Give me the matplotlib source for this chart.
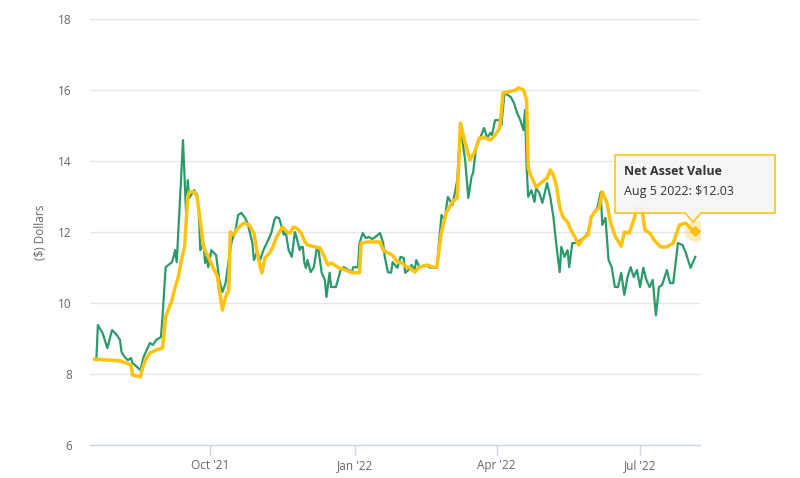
import numpy as np
import pandas as pd
import matplotlib
matplotlib.use("Agg")
import matplotlib.pyplot as plt
from matplotlib.patches import Polygon
from matplotlib.transforms import IdentityTransform

plt.rcParams['font.family'] = ['Open Sans', 'DejaVu Sans']

# market price (green)
price_dates = [
    "2021-07-21", "2021-07-22", "2021-07-25", "2021-07-28", "2021-07-31",
    "2021-08-03", "2021-08-05", "2021-08-06", "2021-08-08", "2021-08-10", "2021-08-12", "2021-08-13",
    "2021-08-18", "2021-08-20", "2021-08-22", "2021-08-24", "2021-08-26", "2021-08-28", "2021-08-31",
    "2021-09-01", "2021-09-03", "2021-09-07", "2021-09-08", "2021-09-09", "2021-09-10", "2021-09-12",
    "2021-09-14", "2021-09-16", "2021-09-17", "2021-09-18", "2021-09-21", "2021-09-23", "2021-09-24",
    "2021-09-25", "2021-09-27", "2021-09-28", "2021-09-29", "2021-09-30",
    "2021-10-02", "2021-10-03", "2021-10-05", "2021-10-07", "2021-10-09", "2021-10-11", "2021-10-13",
    "2021-10-15", "2021-10-17", "2021-10-19", "2021-10-21", "2021-10-23", "2021-10-25", "2021-10-28",
    "2021-10-29", "2021-10-31",
    "2021-11-02", "2021-11-04", "2021-11-07", "2021-11-09", "2021-11-11", "2021-11-12", "2021-11-14",
    "2021-11-17", "2021-11-18", "2021-11-20", "2021-11-22", "2021-11-24", "2021-11-25", "2021-11-27",
    "2021-11-28", "2021-11-29", "2021-11-30",
    "2021-12-01", "2021-12-02", "2021-12-04", "2021-12-06", "2021-12-08", "2021-12-09", "2021-12-11",
    "2021-12-13", "2021-12-14", "2021-12-16", "2021-12-17", "2021-12-20", "2021-12-23", "2021-12-25",
    "2021-12-28", "2021-12-30", "2021-12-31",
    "2022-01-03", "2022-01-04", "2022-01-06", "2022-01-08", "2022-01-10", "2022-01-12", "2022-01-14",
    "2022-01-17", "2022-01-19", "2022-01-20", "2022-01-22", "2022-01-24", "2022-01-25", "2022-01-28",
    "2022-01-30",
    "2022-02-01", "2022-02-02", "2022-02-04", "2022-02-06", "2022-02-08", "2022-02-09", "2022-02-11",
    "2022-02-15", "2022-02-18", "2022-02-22", "2022-02-25", "2022-02-27",
    "2022-03-01", "2022-03-04", "2022-03-07", "2022-03-09", "2022-03-12", "2022-03-14", "2022-03-16",
    "2022-03-17", "2022-03-19", "2022-03-21", "2022-03-24", "2022-03-26", "2022-03-28", "2022-03-29",
    "2022-03-31",
    "2022-04-03", "2022-04-04", "2022-04-06", "2022-04-10", "2022-04-12", "2022-04-14", "2022-04-16",
    "2022-04-18", "2022-04-19", "2022-04-20", "2022-04-21", "2022-04-23", "2022-04-25", "2022-04-26",
    "2022-04-28", "2022-04-30",
    "2022-05-03", "2022-05-05", "2022-05-07", "2022-05-09", "2022-05-11", "2022-05-12", "2022-05-14",
    "2022-05-16", "2022-05-17", "2022-05-19", "2022-05-21", "2022-05-24", "2022-05-27", "2022-05-29",
    "2022-05-31",
    "2022-06-02", "2022-06-04", "2022-06-06", "2022-06-07", "2022-06-09", "2022-06-11", "2022-06-13",
    "2022-06-15", "2022-06-17", "2022-06-19", "2022-06-21", "2022-06-23", "2022-06-25", "2022-06-27",
    "2022-06-29",
    "2022-07-01", "2022-07-03", "2022-07-05", "2022-07-07", "2022-07-09", "2022-07-11", "2022-07-13",
    "2022-07-15", "2022-07-18", "2022-07-20", "2022-07-22", "2022-07-25", "2022-07-28", "2022-07-30",
    "2022-08-02", "2022-08-05",
]
price_values = [
    8.39, 9.38, 9.15, 8.73, 9.24,
    9.10, 8.96, 8.62, 8.48, 8.39, 8.45, 8.31, 8.11, 8.48, 8.68, 8.87, 8.82, 8.96, 9.04,
    9.61, 11.01, 11.15, 11.30, 11.49, 11.15, 12.82, 14.59, 12.48, 13.46, 12.96, 13.18, 13.04, 12.54,
    11.49, 11.69, 11.13, 11.30, 11.01,
    11.49, 11.44, 11.35, 10.65, 10.31, 10.56, 11.21, 11.77, 11.97, 12.48, 12.54, 12.42, 12.25, 11.69,
    11.21, 11.44,
    11.21, 11.49, 11.77, 11.97, 12.34, 12.42, 12.39, 11.92, 12.06, 11.49, 11.30, 12.00, 11.86, 11.49,
    11.58, 11.58, 11.13,
    10.99, 11.21, 10.87, 11.01, 11.58, 11.49, 10.85, 10.65, 10.17, 10.85, 10.45, 10.45, 10.93, 11.01,
    10.93, 10.87, 11.01,
    11.01, 11.69, 11.97, 11.83, 11.86, 11.80, 11.86, 11.97, 11.69, 11.30, 10.87, 10.85, 11.15, 10.99,
    11.30,
    11.27, 10.85, 10.93, 11.07, 10.93, 11.21, 11.01, 11.07, 10.99, 10.99, 12.48, 12.34,
    12.99, 12.76, 13.46, 14.96, 14.03, 12.96, 13.55, 13.66, 14.39, 14.59, 14.93, 14.65, 14.79, 14.73,
    15.15,
    15.15, 15.01, 15.92, 15.80, 15.63, 15.35, 15.15, 14.87, 15.44, 13.83, 12.99, 13.18, 12.85, 13.24,
    13.10, 12.82,
    13.38, 12.99, 12.42, 11.58, 10.87, 11.58, 11.30, 11.49, 11.01, 11.69, 11.69, 11.77, 11.86, 12.00,
    12.42,
    12.56, 12.70, 13.12, 12.20, 12.40, 11.21, 11.01, 10.45, 10.45, 10.85, 10.23, 10.73, 11.01, 10.73,
    10.93,
    10.45, 10.99, 10.65, 10.45, 10.65, 9.65, 10.45, 10.51, 10.93, 10.56, 10.56, 11.69, 11.63, 11.41,
    10.99, 11.30,
]

# net asset value (yellow)
nav_dates = [
    "2021-07-20", "2021-07-30",
    "2021-08-05", "2021-08-09", "2021-08-12", "2021-08-13", "2021-08-18", "2021-08-19", "2021-08-21",
    "2021-08-24", "2021-08-28",
    "2021-09-01", "2021-09-03", "2021-09-07", "2021-09-09", "2021-09-11", "2021-09-13", "2021-09-15",
    "2021-09-17", "2021-09-18", "2021-09-21", "2021-09-23", "2021-09-24", "2021-09-25", "2021-09-27",
    "2021-09-30",
    "2021-10-03", "2021-10-06", "2021-10-07", "2021-10-09", "2021-10-11", "2021-10-13", "2021-10-14",
    "2021-10-16", "2021-10-18", "2021-10-21", "2021-10-23", "2021-10-26", "2021-10-29", "2021-10-31",
    "2021-11-02", "2021-11-03", "2021-11-05", "2021-11-08", "2021-11-10", "2021-11-12", "2021-11-16",
    "2021-11-19", "2021-11-21", "2021-11-23", "2021-11-25", "2021-11-28", "2021-11-30",
    "2021-12-02", "2021-12-07", "2021-12-10", "2021-12-13", "2021-12-15", "2021-12-17", "2021-12-22",
    "2021-12-26", "2021-12-29",
    "2022-01-01", "2022-01-04", "2022-01-05", "2022-01-09", "2022-01-12", "2022-01-17", "2022-01-19",
    "2022-01-22", "2022-01-25", "2022-01-28", "2022-01-31",
    "2022-02-03", "2022-02-05", "2022-02-08", "2022-02-11", "2022-02-16", "2022-02-19", "2022-02-22",
    "2022-02-25", "2022-02-28",
    "2022-03-04", "2022-03-07", "2022-03-09", "2022-03-12", "2022-03-15", "2022-03-18", "2022-03-21",
    "2022-03-25", "2022-03-28", "2022-03-31",
    "2022-04-03", "2022-04-05", "2022-04-08", "2022-04-13", "2022-04-15", "2022-04-18", "2022-04-20",
    "2022-04-21", "2022-04-22", "2022-04-24", "2022-04-26", "2022-04-29",
    "2022-05-03", "2022-05-05", "2022-05-07", "2022-05-09", "2022-05-11", "2022-05-13", "2022-05-16",
    "2022-05-18", "2022-05-21", "2022-05-23", "2022-05-25", "2022-05-27", "2022-05-29", "2022-05-31",
    "2022-06-02", "2022-06-05", "2022-06-07", "2022-06-10", "2022-06-12", "2022-06-15", "2022-06-19",
    "2022-06-21", "2022-06-24", "2022-06-27", "2022-06-29",
    "2022-07-02", "2022-07-04", "2022-07-07", "2022-07-10", "2022-07-14", "2022-07-18", "2022-07-22",
    "2022-07-26", "2022-07-30",
    "2022-08-02", "2022-08-05",
]
nav_values = [
    8.42, 8.39,
    8.37, 8.31, 8.25, 7.97, 7.92, 8.11, 8.39, 8.59, 8.68,
    8.73, 9.61, 10.08, 10.45, 10.73, 11.21, 11.58, 12.99, 13.13, 13.13, 12.99, 12.62, 12.30, 11.58,
    11.30,
    11.01, 10.73, 10.37, 9.80, 10.17, 10.37, 12.00, 11.92, 12.06, 12.20, 12.25, 12.20, 11.97, 11.44,
    11.01, 10.85, 11.27, 11.41, 11.58, 11.83, 12.14, 12.00, 11.97, 12.14, 12.11, 11.97, 11.75,
    11.63, 11.58, 11.55, 11.27, 11.07, 11.13, 10.99, 10.93, 10.87,
    10.85, 10.85, 11.69, 11.72, 11.72, 11.72, 11.49, 11.41, 11.35, 11.15, 11.13,
    11.01, 10.99, 10.87, 11.01, 11.07, 11.01, 11.01, 12.00, 12.54,
    12.85, 12.96, 15.07, 14.51, 14.03, 14.25, 14.65, 14.65, 14.59, 14.73,
    14.93, 15.92, 15.94, 16.00, 16.06, 16.00, 15.72, 13.83, 13.66, 13.46, 13.27, 13.38,
    13.52, 13.75, 13.61, 13.27, 12.70, 12.42, 12.28, 12.06, 11.83, 11.63, 11.77, 11.86, 11.92, 12.42,
    12.56, 12.68, 13.13, 12.82, 12.30, 11.90, 11.60, 12.00, 11.97, 12.34, 12.68,
    12.68, 12.06, 11.97, 11.77, 11.58, 11.58, 11.69, 12.20, 12.25,
    12.10, 12.03,
]

x_ticks = ["2021-10-01", "2022-01-01", "2022-04-01", "2022-07-01"]
x_tick_labels = ["Oct '21", "Jan '22", "Apr '22", "Jul '22"]
y_ticks = [6, 8, 10, 12, 14, 16, 18]

tooltip_title = "Net Asset Value"
tooltip_text = "Aug 5 2022: $12.03"

GREEN = '#2b9a6b'
YELLOW = '#ffc20e'
W, H = 800, 478

price_dates = pd.to_datetime(price_dates)
nav_dates = pd.to_datetime(nav_dates)

fig = plt.figure(figsize=(W / 100, H / 100), dpi=100)
ax = fig.add_axes([90 / W, 1 - 445 / H, 610 / W, 426 / H])

ax.plot(price_dates, price_values, color=GREEN, lw=1.6, solid_joinstyle='round', zorder=3)
ax.plot(nav_dates, nav_values, color=YELLOW, lw=2.5, solid_joinstyle='round', zorder=4)

# hovered point
ax.plot(nav_dates[-1], nav_values[-1], 'o', ms=15, color=YELLOW, alpha=0.3, mec='none', zorder=5)
ax.plot(nav_dates[-1], nav_values[-1], 'D', ms=5, color=YELLOW, mec='#ffb000', mew=0.5, zorder=6)

ax.set_ylim(6, 18)
ax.set_xlim(pd.Timestamp("2021-07-17"), pd.Timestamp("2022-08-08"))
ax.set_yticks(y_ticks)
ax.set_xticks(pd.to_datetime(x_ticks))
ax.set_xticklabels(x_tick_labels)
ax.grid(axis='y', color='#e6e6e6', lw=1)
ax.set_axisbelow(True)
for s in ['top', 'right', 'left']:
    ax.spines[s].set_visible(False)
ax.spines['bottom'].set_color('#ccd6eb')
ax.spines['bottom'].set_linewidth(1)
ax.tick_params(axis='x', length=7, width=1, color='#ccd6eb', labelcolor='#666666', labelsize=8.5, pad=3)
ax.tick_params(axis='y', length=0, labelcolor='#666666', labelsize=8.5, pad=13)

fig.text(40 / W, 1 - 232 / H, "($) Dollars", rotation=90, ha='center', va='center',
         color='#666666', fontsize=8.5)


def px(x, y):
    return (x, H - y)


# tooltip callout with a faint shadow
shape = [px(615, 155), px(775, 155), px(775, 213), px(701, 213), px(693, 222),
         px(685, 213), px(615, 213)]
shadow = Polygon([(x + 1, y - 1) for x, y in shape], closed=True, facecolor='#000000',
                 edgecolor='none', alpha=0.08, transform=IdentityTransform(), zorder=9)
fig.add_artist(shadow)
box = Polygon(shape, closed=True, facecolor='#f7f7f7', edgecolor=YELLOW, lw=1.2,
              alpha=0.92, transform=IdentityTransform(), zorder=10)
fig.add_artist(box)
fig.text(624 / W, 1 - 172 / H, tooltip_title, fontsize=9, fontweight='bold', color='#333333',
         va='center', ha='left', zorder=11)
fig.text(624 / W, 1 - 191 / H, tooltip_text, fontsize=9, color='#333333',
         va='center', ha='left', zorder=11)

fig.savefig('out.png', dpi=100)
